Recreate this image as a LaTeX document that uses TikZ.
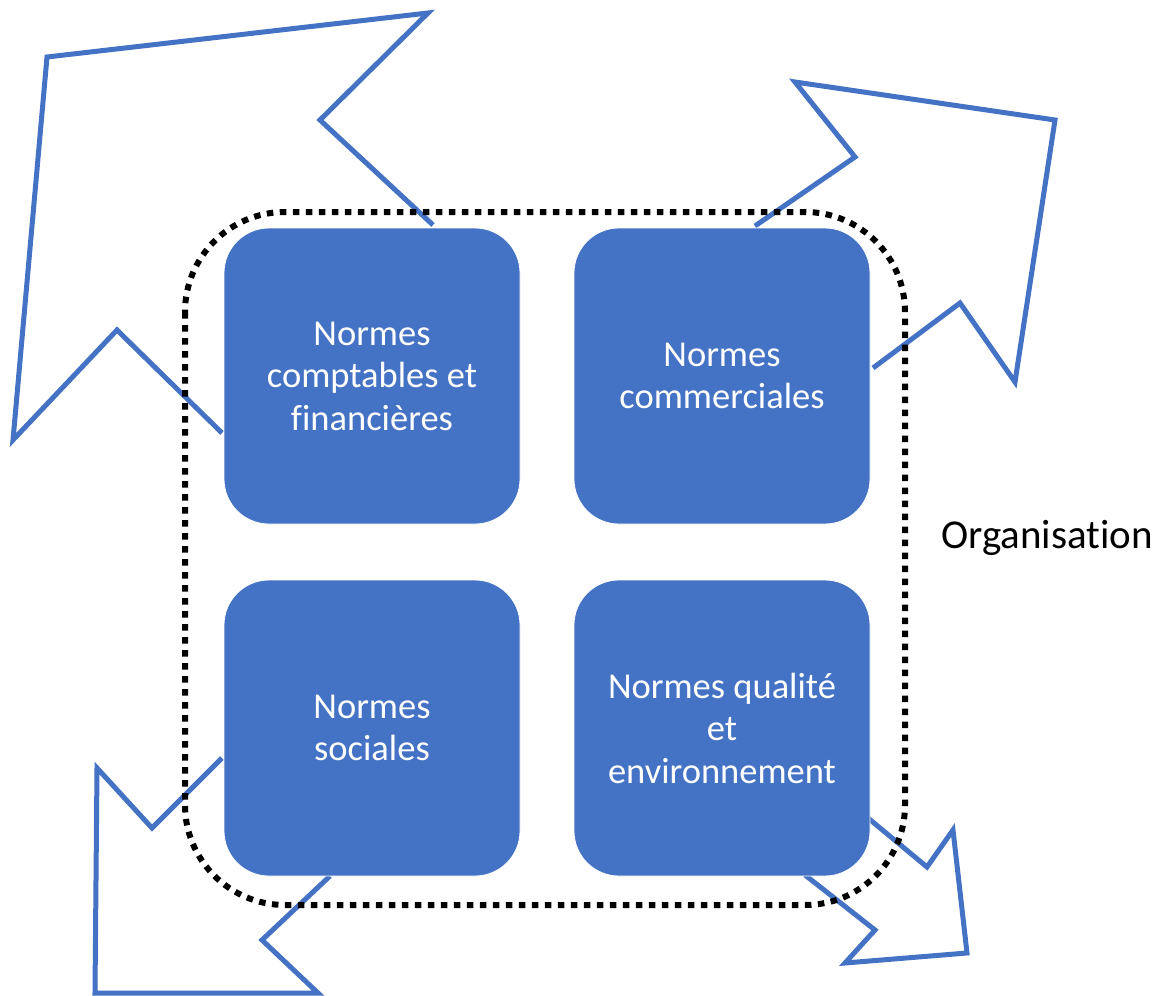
\documentclass[tikz,border=0pt]{standalone}
\usepackage{fontspec}
\setmainfont{Carlito}[Ligatures={NoCommon}]
\definecolor{boxblue}{HTML}{4472C4}
\tikzset{
  bigarrow/.style={draw=boxblue, line width=5pt, miter limit=10, fill=none},
  normbox/.style={fill=boxblue, draw=white, line width=0.8pt, rounded corners=45pt,
    minimum width=296pt, minimum height=296pt, inner sep=0pt, text=white,
    align=center, font=\fontsize{36.5}{42.5}\selectfont},
  orgframe/.style={draw=black, line width=6pt, dash pattern=on 6.5pt off 6.5pt, rounded corners=100pt},
}
\begin{document}
\begin{tikzpicture}[x=1pt,y=-1pt]
\useasboundingbox (0,0) rectangle (1163,996);
% arrows (outlines)
\draw[bigarrow] (433,225) -- (320,120) -- (428,13) -- (47,57) -- (13,440) -- (117,330) -- (222,433);
\draw[bigarrow] (755,226) -- (855,157) -- (795,82) -- (1055,120) -- (1015,382) -- (960,303) -- (873,368);
\draw[bigarrow] (222,758) -- (152,828) -- (97,768) -- (95,993) -- (318,993) -- (262,940) -- (330,876);
\draw[bigarrow] (868,818) -- (927,867) -- (953,830) -- (967,953) -- (845,963) -- (875,930) -- (805,875);
% organisation frame
\draw[orgframe] (185,212) rectangle (905,905);
% boxes
\node[normbox] (cf) at (372,376) {Normes\\comptables et\\financières};
\node[normbox] (co) at (722,376) {Normes\\commerciales};
\node[normbox] (so) at (372,728) {Normes\\sociales};
\node[normbox] (qe) at (722,728) {Normes qualité\\et\\environnement};
\node[anchor=west, inner sep=0pt, font=\fontsize{41}{48}\selectfont] (org) at (941,538) {Organisation};
\end{tikzpicture}
\end{document}
